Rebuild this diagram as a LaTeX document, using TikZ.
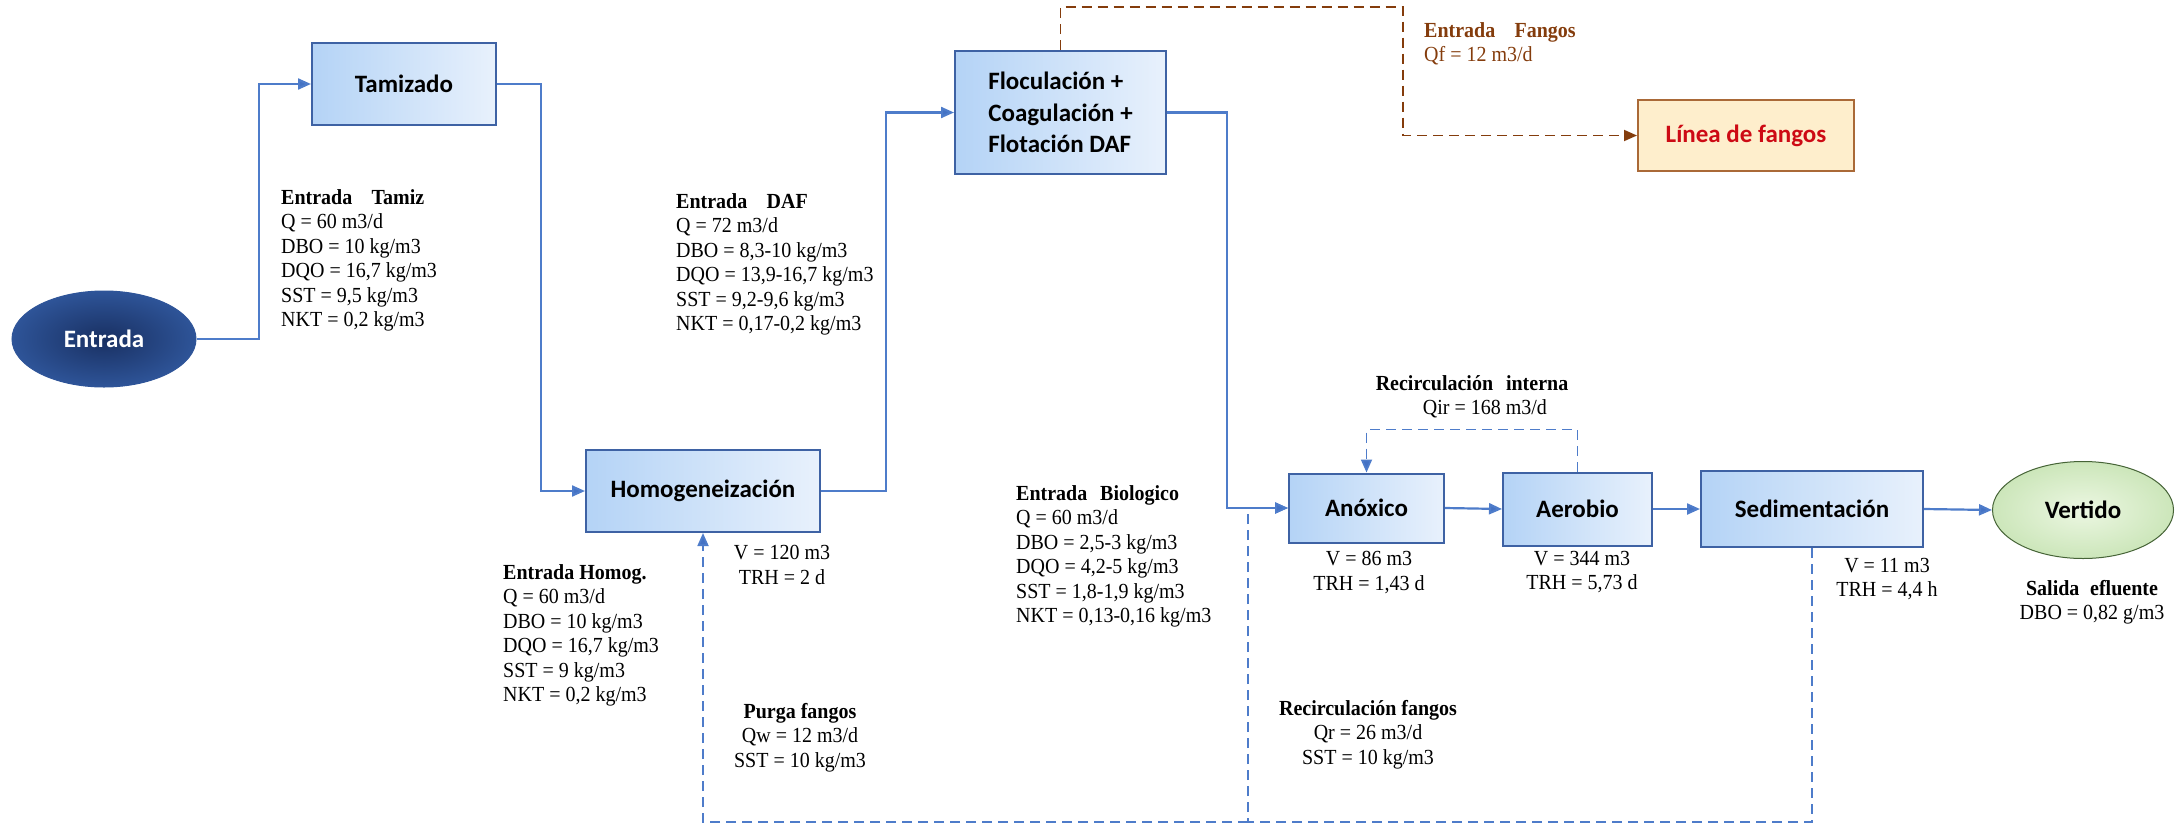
\documentclass[tikz,border=0pt]{standalone}
\usepackage{fontspec}
\setmainfont{Liberation Serif}[FakeStretch=0.93]
\newfontfamily\boxfont{Carlito}
\usetikzlibrary{shapes.geometric,arrows.meta,calc}

\definecolor{flowblue}{RGB}{78,124,202}
\definecolor{tipblue}{RGB}{68,114,196}
\definecolor{boxedge}{RGB}{62,98,164}
\definecolor{boxleft}{RGB}{180,211,246}
\definecolor{boxright}{RGB}{232,241,252}
\definecolor{navyin}{RGB}{25,48,98}
\definecolor{navyout}{RGB}{46,84,152}
\definecolor{greenin}{RGB}{236,247,226}
\definecolor{greenout}{RGB}{204,230,186}
\definecolor{greenedge}{RGB}{70,100,55}
\definecolor{sludge}{RGB}{132,60,12}
\definecolor{sludgefill}{RGB}{254,238,204}
\definecolor{sludgeedge}{RGB}{170,105,55}
\definecolor{alertred}{RGB}{205,10,20}

\begin{document}
\begin{tikzpicture}[x=1pt,y=-1pt,
  unit/.style={draw=boxedge, line width=2pt, left color=boxleft, right color=boxright,
    font=\boxfont\bfseries\fontsize{25}{31.5}\selectfont, inner sep=0pt, align=center},
  flow/.style={draw=flowblue, line width=2.2pt, -{Triangle[length=13pt,width=11pt,fill=tipblue]}},
  dline/.style={draw=flowblue, line width=1.8pt, dash pattern=on 10pt off 6pt},
  dflow/.style={dline, -{Triangle[length=13pt,width=11pt,fill=tipblue]}},
  bflow/.style={draw=sludge, line width=1.8pt, dash pattern=on 10pt off 6pt,
    -{Triangle[length=13pt,width=11pt,fill=sludge]}},
  info/.style={font=\fontsize{21.5}{24.5}\selectfont, align=left, anchor=north west, inner sep=0pt},
  infoc/.style={font=\fontsize{21.5}{24.5}\selectfont, align=center, anchor=north, inner sep=0pt}
]
\useasboundingbox (0,0) rectangle (2175,825);

% process units
\node[ellipse, draw=navyout, line width=1pt, inner color=navyin, outer color=navyout,
  minimum width=184pt, minimum height=96pt, text=white,
  font=\boxfont\bfseries\fontsize{25}{30}\selectfont] (ent) at (104,339) {Entrada};
\node[unit, minimum width=184pt, minimum height=82pt] (tam) at (404,84) {Tamizado};
\node[unit, minimum width=234pt, minimum height=82pt] (hom) at (703,491) {Homogeneización};
\node[unit, minimum width=211pt, minimum height=123pt, align=left] (floc) at (1060.5,112.5)
  {Floculación +\\Coagulación +\\Flotación DAF};
\node[unit, minimum width=155pt, minimum height=69pt] (ano) at (1366.5,508) {Anóxico};
\node[unit, minimum width=149pt, minimum height=73pt] (aer) at (1577.5,509) {Aerobio};
\node[unit, minimum width=222pt, minimum height=76pt] (sed) at (1812,509) {Sedimentación};
\node[ellipse, draw=greenedge, line width=1pt, inner color=greenin, outer color=greenout,
  minimum width=181pt, minimum height=97pt,
  font=\boxfont\bfseries\fontsize{25}{30}\selectfont] (ver) at (2083,510) {Vertido};
\node[draw=sludgeedge, line width=2pt, fill=sludgefill, minimum width=216pt, minimum height=71pt,
  text=alertred, font=\boxfont\bfseries\fontsize{25}{30}\selectfont] (lin) at (1746,135.5) {Línea de fangos};

% main water line
\draw[flow] (ent.east) -| ($(tam.west)+(-52,0)$) -- (tam.west);
\draw[flow] (tam.east) -| ($(hom.west)+(-44,0)$) -- (hom.west);
\draw[flow] (hom.east) -| ($(floc.west)+(-68,0)$) -- (floc.west);
\draw[flow] (floc.east) -| ($(ano.west)+(-61,0)$) -- (ano.west);
\draw[flow] (ano.east) -- (aer.west);
\draw[flow] (aer.east) -- (sed.west);
\draw[flow] (sed.east) -- (ver.west);

% recirculations and purge
\coordinate (jb) at (1248,822);
\draw[dflow] (aer.north) |- ($(ano.north)+(0,-43)$) -- (ano.north);
\draw[dflow] (sed.south) |- (jb) |- (ano.west);
\draw[dflow] (jb) -| (hom.south);
\draw[bflow] (floc.north) |- (1403,7) |- (lin.west);

% stream data
\node[info] (tamdata) at (281,189) {\textbf{Entrada\hspace{0.9em}Tamiz}\\Q = 60 m3/d\\DBO = 10 kg/m3\\DQO = 16,7 kg/m3\\SST = 9,5 kg/m3\\NKT = 0,2 kg/m3};
\node[info] (dafdata) at (676,193) {\textbf{Entrada\hspace{0.9em}DAF}\\Q = 72 m3/d\\DBO = 8,3-10 kg/m3\\DQO = 13,9-16,7 kg/m3\\SST = 9,2-9,6 kg/m3\\NKT = 0,17-0,2 kg/m3};
\node[info] (homdata) at (503,564) {\textbf{Entrada Homog.}\\Q = 60 m3/d\\DBO = 10 kg/m3\\DQO = 16,7 kg/m3\\SST = 9 kg/m3\\NKT = 0,2 kg/m3};
\node[infoc] (homsize) at (782,545) {V = 120 m3\\TRH = 2 d};
\node[infoc] (purga) at (800,703) {\textbf{Purga fangos}\\Qw = 12 m3/d\\SST = 10 kg/m3};
\node[info] (biodata) at (1016,485) {\textbf{Entrada\hspace{0.6em}Biologico}\\Q = 60 m3/d\\DBO = 2,5-3 kg/m3\\DQO = 4,2-5 kg/m3\\SST = 1,8-1,9 kg/m3\\NKT = 0,13-0,16 kg/m3};
\node[infoc] (rint) at (1472,375) {\textbf{Recirculación\hspace{0.6em}interna}\\\hspace{1.2em}Qir = 168 m3/d};
\node[infoc] (anosize) at (1369,551) {V = 86 m3\\TRH = 1,43 d};
\node[infoc] (aersize) at (1582,551) {V = 344 m3\\TRH = 5,73 d};
\node[infoc] (sedsize) at (1887,558) {V = 11 m3\\TRH = 4,4 h};
\node[infoc] (salida) at (2092,580) {\textbf{Salida\hspace{0.5em}efluente}\\DBO = 0,82 g/m3};
\node[infoc] (rfan) at (1368,700) {\textbf{Recirculación fangos}\\Qr = 26 m3/d\\SST = 10 kg/m3};
\node[info, text=sludge] (fandata) at (1424,22) {\textbf{Entrada\hspace{0.9em}Fangos}\\Qf = 12 m3/d};
\end{tikzpicture}
\end{document}
